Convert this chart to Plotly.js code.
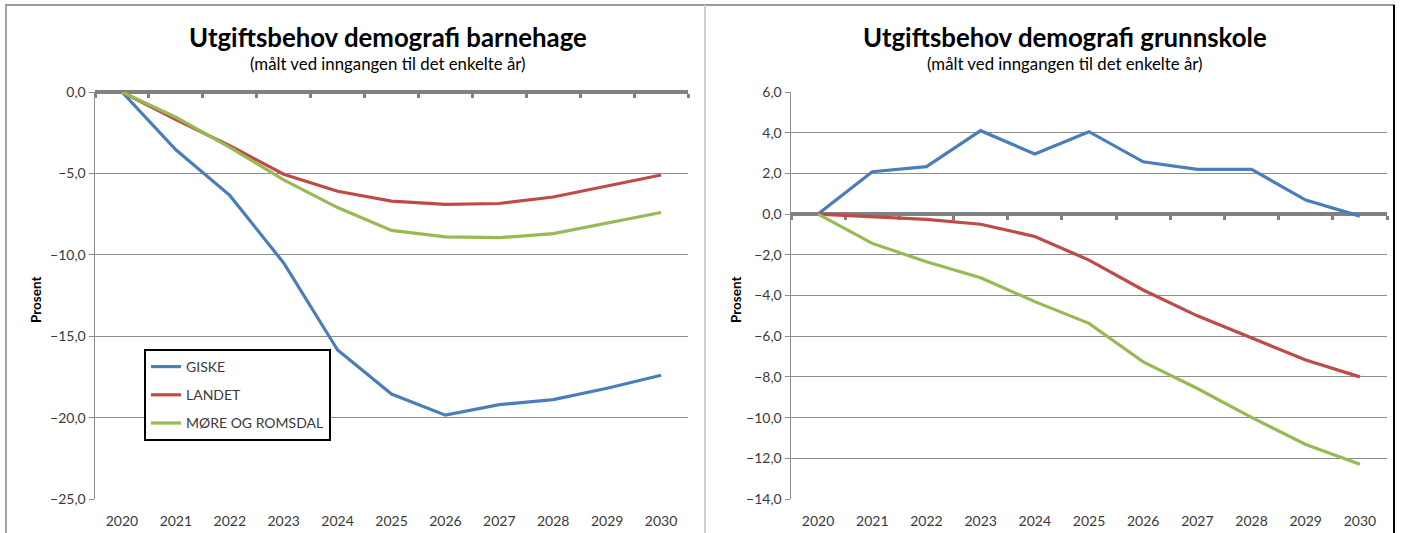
<!DOCTYPE html>
<html>
<head>
<meta charset="utf-8">
<script src="https://cdn.plot.ly/plotly-3.0.1.min.js"></script>
<style>html,body{margin:0;padding:0;background:#fff;}#chart{width:1402px;height:533px;}</style>
</head>
<body>
<div id="chart"></div>
<script>
const years = ['2020','2021','2022','2023','2024','2025','2026','2027','2028','2029','2030'];
const seriesNames = ['GISKE','LANDET','MØRE OG ROMSDAL'];
const giskeBarnehage = [0,-3.55,-6.35,-10.5,-15.85,-18.55,-19.85,-19.2,-18.9,-18.2,-17.4];
const landetBarnehage = [0,-1.7,-3.3,-5.05,-6.1,-6.7,-6.9,-6.85,-6.45,-5.8,-5.1];
const mrBarnehage = [0,-1.55,-3.4,-5.4,-7.1,-8.5,-8.9,-8.95,-8.7,-8.05,-7.4];
const giskeGrunnskole = [0,2.08,2.33,4.1,2.95,4.05,2.57,2.2,2.2,0.69,-0.1];
const landetGrunnskole = [0,-0.12,-0.26,-0.5,-1.1,-2.26,-3.73,-5.0,-6.1,-7.17,-8.0];
const mrGrunnskole = [0,-1.44,-2.34,-3.13,-4.3,-5.37,-7.26,-8.57,-9.99,-11.32,-12.29];
const titleLeft = 'Utgiftsbehov demografi barnehage';
const titleRight = 'Utgiftsbehov demografi grunnskole';
const subtitle = '(målt ved inngangen til det enkelte år)';
const yTitle = 'Prosent';

const colors = ['#4A7EBB','#BE4B48','#98B954'];
const FONT = 'Lato, "Liberation Sans", sans-serif';
const W = 1402, H = 533;

const leftRange = [-25, 0], rightRange = [-14, 6];
const xdomL = [95/W, 688/W], xdomR = [791/W, 1387/W];
const ydom = [1-499/H, 1-92/H];
function zeroPos(r){ return ydom[0] + (0 - r[0])/(r[1]-r[0])*(ydom[1]-ydom[0]); }

const bounds = []; for(let i=0;i<=years.length;i++) bounds.push(i-0.5);
const catRange = [-0.5, years.length-0.5];

const traces = [];
// empty helper traces so the zero-line axes exist
traces.push({x:[],y:[],type:'scatter',mode:'lines',xaxis:'x3',yaxis:'y',showlegend:false,hoverinfo:'skip'});
traces.push({x:[],y:[],type:'scatter',mode:'lines',xaxis:'x4',yaxis:'y2',showlegend:false,hoverinfo:'skip'});
const leftData = [giskeBarnehage, landetBarnehage, mrBarnehage];
const rightData = [giskeGrunnskole, landetGrunnskole, mrGrunnskole];
leftData.forEach((d,i)=>traces.push({x:years,y:d,type:'scatter',mode:'lines',name:seriesNames[i],
  line:{color:colors[i],width:3.2},xaxis:'x',yaxis:'y',legendgroup:'g'+i,showlegend:true,hoverinfo:'skip'}));
rightData.forEach((d,i)=>traces.push({x:years,y:d,type:'scatter',mode:'lines',name:seriesNames[i],
  line:{color:colors[i],width:3.2},xaxis:'x2',yaxis:'y2',showlegend:false,hoverinfo:'skip'}));

const gridC = '#8C8C8C', tickFont = {family:FONT,size:14,color:'#3A3A3A'};

function catAxis(dom, anchor){
  return {domain:dom, anchor:anchor, type:'category', range:catRange, showgrid:false, zeroline:false,
    showline:false, ticks:'', tickfont:tickFont, ticklabelstandoff:12, fixedrange:true};
}
function valAxis(dom, anchor, range, dtick){
  return {domain:ydom, anchor:anchor, range:range, dtick:dtick, tickformat:'.1f', showgrid:true, gridcolor:gridC,
    gridwidth:1, zeroline:false, showline:true, linecolor:gridC, linewidth:1.5, ticks:'outside', ticklen:5,
    tickcolor:gridC, tickfont:tickFont, fixedrange:true};
}
function zeroAxis(overlay, dom, pos){
  return {overlaying:overlay, anchor:'free', position:pos, side:'bottom', domain:dom, range:catRange,
    tickmode:'array', tickvals:bounds, showticklabels:false, ticks:'outside', ticklen:4, tickwidth:3,
    tickcolor:'#808080', showline:true, linewidth:4, linecolor:'#808080', showgrid:false, zeroline:false,
    layer:'below traces', fixedrange:true};
}

function ann(text, x, y, size, angle){
  return {text:text, x:x/W, y:1-y/H, xref:'paper', yref:'paper', xanchor:'center', yanchor:'middle',
    showarrow:false, textangle:angle||0, font:{family:FONT,size:size,color:'#000'}};
}

const layout = {
  width:W, height:H, margin:{l:0,r:0,t:0,b:0}, paper_bgcolor:'#fff', plot_bgcolor:'rgba(0,0,0,0)',
  separators:', ', font:{family:FONT,color:'#3A3A3A'},
  xaxis: catAxis(xdomL,'y'), yaxis: valAxis(ydom,'x',leftRange,5),
  xaxis2: catAxis(xdomR,'y2'), yaxis2: valAxis(ydom,'x2',rightRange,2),
  xaxis3: zeroAxis('x', xdomL, zeroPos(leftRange)),
  xaxis4: zeroAxis('x2', xdomR, zeroPos(rightRange)),
  showlegend:true,
  legend:{x:144/W, y:1-349/H, xanchor:'left', yanchor:'top', bgcolor:'#fff', bordercolor:'#000', borderwidth:2,
    font:{family:FONT,size:14,color:'#3A3A3A'}, tracegroupgap:7, itemwidth:30},
  annotations:[
    ann('<b>'+titleLeft+'</b>', 388, 37, 25.8),
    ann(subtitle, 388, 63, 16.8),
    ann('<b>'+titleRight+'</b>', 1065, 37, 25.8),
    ann(subtitle, 1065, 63, 16.8),
    ann('<b>'+yTitle+'</b>', 36, 300, 13.5, -90),
    ann('<b>'+yTitle+'</b>', 736, 300, 13.5, -90)
  ],
  shapes:[
    {type:'line', xref:'paper', yref:'paper', x0:5/W, x1:1395/W, y0:1-5/H, y1:1-5/H, line:{color:'#9A9A9A',width:2}},
    {type:'line', xref:'paper', yref:'paper', x0:6/W, x1:6/W, y0:0, y1:1-5/H, line:{color:'#A6A6A6',width:2}},
    {type:'line', xref:'paper', yref:'paper', x0:705/W, x1:705/W, y0:0, y1:1-5/H, line:{color:'#CFCFCF',width:2}},
    {type:'line', xref:'paper', yref:'paper', x0:1394/W, x1:1394/W, y0:0, y1:1-5/H, line:{color:'#000',width:2}}
  ]
};
Plotly.newPlot('chart', traces, layout, {staticPlot:true, displayModeBar:false});
</script>
</body>
</html>
